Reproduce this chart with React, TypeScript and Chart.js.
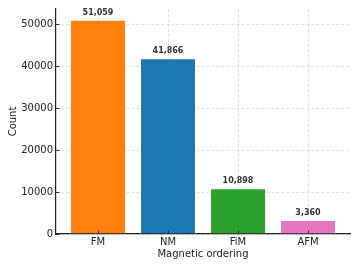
import React, { useEffect, useRef } from "react";
import { Chart, registerables } from "chart.js";

Chart.register(...registerables);

const categories = ["FM", "NM", "FiM", "AFM"];
const counts = [51059, 41866, 10898, 3360];
const barColors = ["#ff7f0e", "#1f77b4", "#2ca02c", "#e377c2"];
const yTicks = [0, 10000, 20000, 30000, 40000, 50000];

const FONT = "'DejaVu Sans', sans-serif";

const overlayPlugin = {
  id: "overlay",
  afterDraw(chart: any) {
    const ctx = chart.ctx;
    const xs = chart.scales.x;
    const ys = chart.scales.y;
    const area = chart.chartArea;
    ctx.save();
    ctx.strokeStyle = "#333";
    ctx.lineWidth = 1;
    ctx.beginPath();
    categories.forEach((_, i) => {
      const px = Math.round(xs.getPixelForValue(i)) + 0.5;
      ctx.moveTo(px, area.bottom);
      ctx.lineTo(px, area.bottom - 3.5);
    });
    yTicks.forEach((v) => {
      const py = Math.round(ys.getPixelForValue(v)) + 0.5;
      ctx.moveTo(area.left, py);
      ctx.lineTo(area.left + 3.5, py);
    });
    ctx.stroke();
    const meta = chart.getDatasetMeta(0);
    ctx.fillStyle = "#333";
    ctx.font = "bold 8px " + FONT;
    ctx.textAlign = "center";
    ctx.textBaseline = "middle";
    meta.data.forEach((bar: any, i: number) => {
      ctx.fillText(counts[i].toLocaleString("en-US"), bar.x, bar.y - 7);
    });
    ctx.restore();
  },
};

export default function App() {
  const ref = useRef<HTMLCanvasElement>(null);
  useEffect(() => {
    document.body.style.margin = "0";
    const chart = new Chart(ref.current!, {
      type: "bar",
      data: {
        datasets: [
          {
            data: counts.map((c, i) => ({ x: i, y: c })),
            backgroundColor: barColors,
            borderColor: "rgba(255,255,255,0.55)",
            borderWidth: 1,
            barPercentage: 0.8,
            categoryPercentage: 1,
          },
        ],
      },
      options: {
        animation: false,
        responsive: false,
        maintainAspectRatio: false,
        layout: { padding: { top: 9, right: 9, left: 0, bottom: 0 } },
        plugins: { legend: { display: false }, tooltip: { enabled: false } },
        scales: {
          x: {
            type: "linear",
            min: -0.6,
            max: 3.6,
            offset: false,
            z: 1,
            afterBuildTicks: (s: any) => {
              s.ticks = categories.map((_, i) => ({ value: i }));
            },
            afterFit: (s: any) => {
              s.height = 35;
            },
            ticks: {
              callback: (v: any) => categories[v as number] ?? "",
              color: "#222",
              font: { family: FONT, size: 10 },
              padding: 2,
              maxRotation: 0,
              autoSkip: false,
            },
            grid: {
              offset: false,
              color: "rgba(176,176,176,0.45)",
              lineWidth: 0.8,
              drawTicks: false,
            },
            border: { display: true, color: "#222", width: 1.2, dash: [3, 2] },
            title: {
              display: true,
              text: "Magnetic ordering",
              color: "#222",
              font: { family: FONT, size: 10 },
              padding: { top: 0, bottom: 9 },
            },
          },
          y: {
            type: "linear",
            min: 0,
            max: 53612,
            z: 1,
            afterBuildTicks: (s: any) => {
              s.ticks = yTicks.map((v) => ({ value: v }));
            },
            afterFit: (s: any) => {
              s.width = 56;
            },
            ticks: {
              callback: (v: any) => String(v),
              color: "#222",
              font: { family: FONT, size: 10 },
              padding: 3,
            },
            grid: {
              color: "rgba(176,176,176,0.45)",
              lineWidth: 0.8,
              drawTicks: false,
            },
            border: { display: true, color: "#222", width: 1.2, dash: [3, 2] },
            title: {
              display: true,
              text: "Count",
              color: "#222",
              font: { family: FONT, size: 10 },
              padding: { top: 7, bottom: 0 },
            },
          },
        },
      },
      plugins: [overlayPlugin],
    });
    return () => chart.destroy();
  }, []);
  return (
    <div style={{ width: 359, height: 269 }}>
      <canvas ref={ref} width={359} height={269} style={{ display: "block" }} />
    </div>
  );
}
